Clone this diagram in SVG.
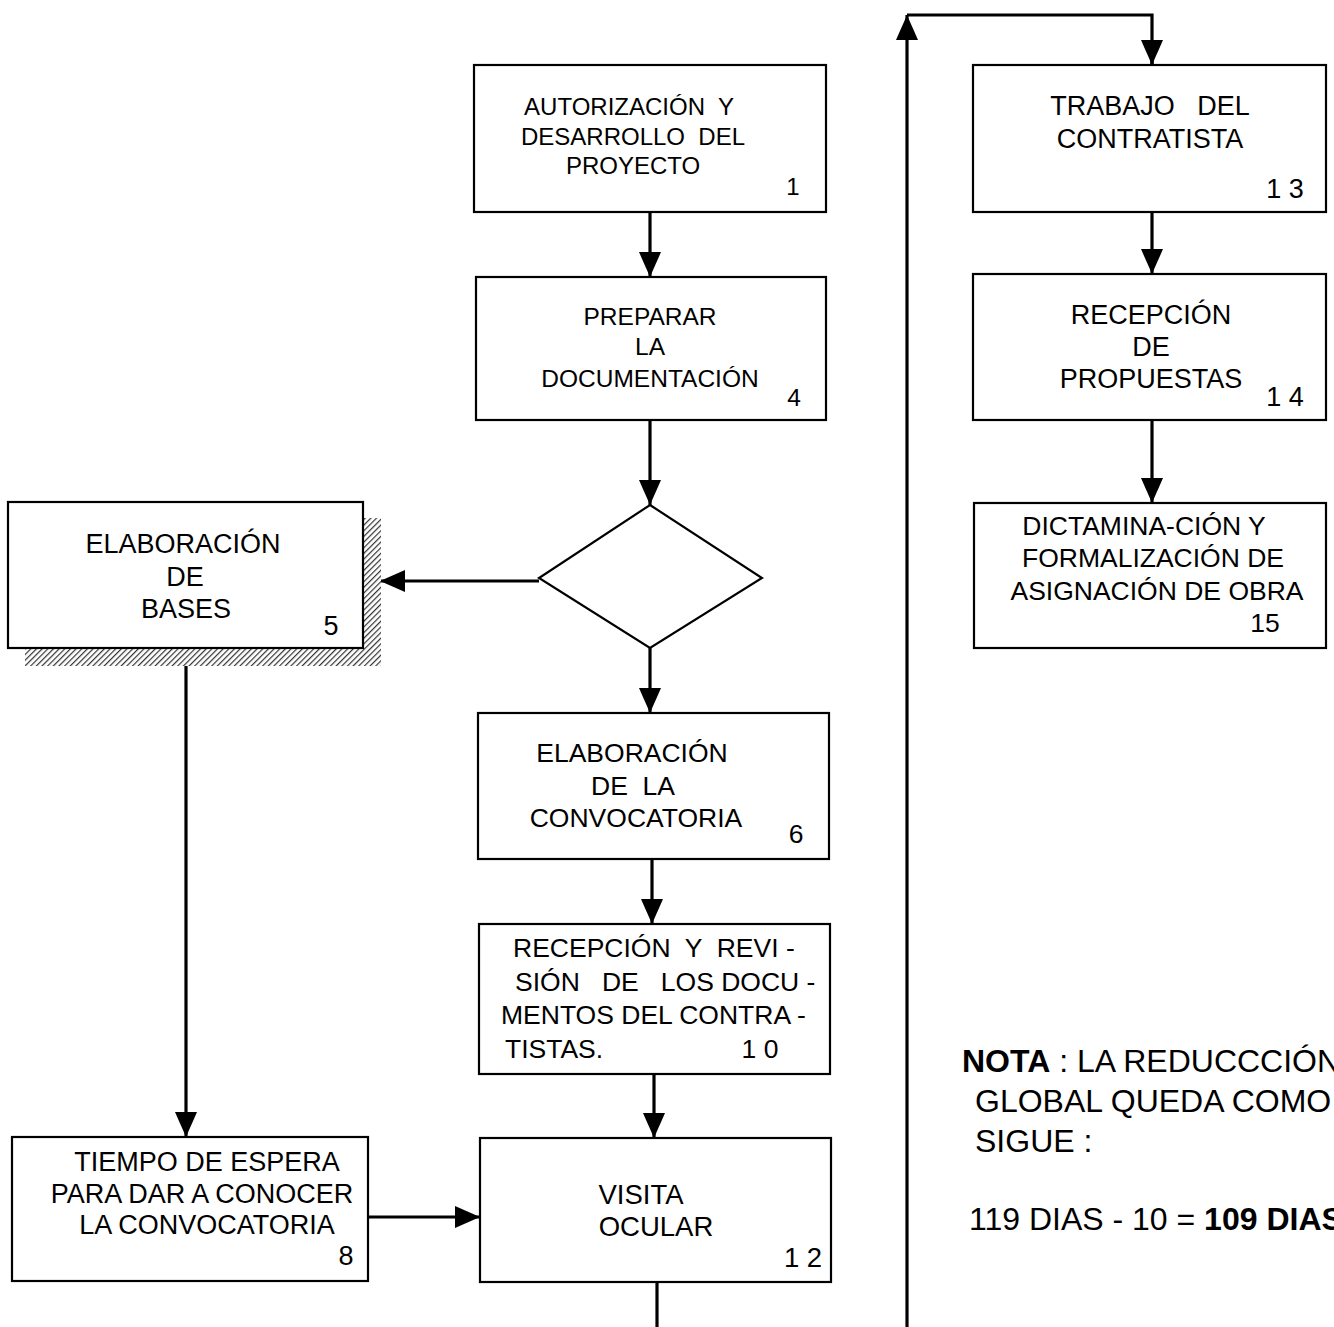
<svg xmlns="http://www.w3.org/2000/svg" width="1334" height="1327" viewBox="0 0 1334 1327" xml:space="preserve">
<defs>
<style>
.box{fill:#fff;stroke:#000;stroke-width:2.2}
text{font-family:"Liberation Sans",Arial,sans-serif;fill:#000;white-space:pre}
.t{text-anchor:middle}
.s{text-anchor:start}
.f24{font-size:24px}
.f245{font-size:24.5px}
.f265{font-size:26.5px}
.f27{font-size:27px}
.f275{font-size:27.5px}
.note{font-size:32px}
.c{fill:none;stroke:#000;stroke-width:3.2}
</style>
<marker id="ah" markerUnits="userSpaceOnUse" markerWidth="26" markerHeight="22" refX="25" refY="11" orient="auto">
<path d="M0,0 L25,11 L0,22 z" fill="#000"/>
</marker>
<pattern id="hatch" patternUnits="userSpaceOnUse" width="4" height="4" patternTransform="rotate(45)">
<rect width="4" height="4" fill="#fff"/>
<line x1="0" y1="0" x2="0" y2="4" stroke="#333" stroke-width="2.4"/>
</pattern>
</defs>
<rect width="1334" height="1327" fill="#fff"/>

<g id="connectors">
<line class="c" x1="650" y1="212" x2="650" y2="277" marker-end="url(#ah)"/>
<line class="c" x1="650" y1="420" x2="650" y2="505" marker-end="url(#ah)"/>
<line class="c" x1="539" y1="581" x2="380" y2="581" marker-end="url(#ah)"/>
<line class="c" x1="650" y1="648" x2="650" y2="713" marker-end="url(#ah)"/>
<line class="c" x1="652" y1="859" x2="652" y2="924" marker-end="url(#ah)"/>
<line class="c" x1="654" y1="1074" x2="654" y2="1138" marker-end="url(#ah)"/>
<line class="c" x1="186" y1="666" x2="186" y2="1137" marker-end="url(#ah)"/>
<line class="c" x1="368" y1="1217" x2="480" y2="1217" marker-end="url(#ah)"/>
<line class="c" x1="657" y1="1282" x2="657" y2="1327"/>
<line class="c" x1="907" y1="1327" x2="907" y2="15" marker-end="url(#ah)"/>
<polyline class="c" points="907,15 1152,15 1152,65"/>
<line class="c" x1="1152" y1="40" x2="1152" y2="65" marker-end="url(#ah)"/>
<line class="c" x1="1152" y1="212" x2="1152" y2="274" marker-end="url(#ah)"/>
<line class="c" x1="1152" y1="420" x2="1152" y2="503" marker-end="url(#ah)"/>
</g>

<g id="n1">
<rect class="box" x="474" y="65" width="352" height="147"/>
<text class="t f24" x="629" y="115">AUTORIZACIÓN  Y</text>
<text class="t f24" x="633" y="145">DESARROLLO  DEL</text>
<text class="t f24" x="633" y="174">PROYECTO</text>
<text class="t f24" x="793" y="195">1</text>
</g>

<g id="n4">
<rect class="box" x="476" y="277" width="350" height="143"/>
<text class="t f245" x="650" y="325">PREPARAR</text>
<text class="t f245" x="650" y="355">LA</text>
<text class="t f245" x="650" y="387">DOCUMENTACIÓN</text>
<text class="t f245" x="794" y="406">4</text>
</g>

<g id="decision">
<polygon class="box" points="650,505 762,578 650,648 539,578"/>
</g>

<g id="n5">
<rect x="363" y="518" width="18" height="148" fill="url(#hatch)"/>
<rect x="25" y="648" width="356" height="18" fill="url(#hatch)"/>
<rect class="box" x="8" y="502" width="355" height="146"/>
<text class="t f27" x="183" y="553">ELABORACIÓN</text>
<text class="t f27" x="185" y="586">DE</text>
<text class="t f27" x="186" y="618">BASES</text>
<text class="t f27" x="331" y="635">5</text>
</g>

<g id="n6">
<rect class="box" x="478" y="713" width="351" height="146"/>
<text class="t f265" x="632" y="762">ELABORACIÓN</text>
<text class="t f265" x="633" y="795">DE  LA</text>
<text class="t f265" x="636" y="827">CONVOCATORIA</text>
<text class="t f265" x="796" y="843">6</text>
</g>

<g id="n10">
<rect class="box" x="479" y="924" width="351" height="150"/>
<text class="s f265" x="513" y="957">RECEPCIÓN  Y  REVI -</text>
<text class="s f265" x="515" y="991">SIÓN   DE   LOS DOCU -</text>
<text class="s f265" x="501" y="1024">MENTOS DEL CONTRA -</text>
<text class="s f265" x="505" y="1058">TISTAS.</text>
<text class="t f265" x="760" y="1058">1 0</text>
</g>

<g id="n12">
<rect class="box" x="480" y="1138" width="351" height="144"/>
<text class="t f275" x="641" y="1204">VISITA</text>
<text class="t f275" x="656" y="1236">OCULAR</text>
<text class="t f275" x="803" y="1267">1 2</text>
</g>

<g id="n8">
<rect class="box" x="12" y="1137" width="356" height="144"/>
<text class="t f27" x="207" y="1171">TIEMPO DE ESPERA</text>
<text class="t f27" x="202" y="1203">PARA DAR A CONOCER</text>
<text class="t f27" x="207" y="1234">LA CONVOCATORIA</text>
<text class="t f27" x="346" y="1265">8</text>
</g>

<g id="n13">
<rect class="box" x="973" y="65" width="353" height="147"/>
<text class="t f27" x="1150" y="115">TRABAJO   DEL</text>
<text class="t f27" x="1150" y="148">CONTRATISTA</text>
<text class="t f27" x="1285" y="198">1 3</text>
</g>

<g id="n14">
<rect class="box" x="973" y="274" width="353" height="146"/>
<text class="t f27" x="1151" y="324">RECEPCIÓN</text>
<text class="t f27" x="1151" y="356">DE</text>
<text class="t f27" x="1151" y="388">PROPUESTAS</text>
<text class="t f27" x="1285" y="406">1 4</text>
</g>

<g id="n15">
<rect class="box" x="974" y="503" width="352" height="145"/>
<text class="t f265" x="1144" y="535">DICTAMINA-CIÓN Y</text>
<text class="t f265" x="1153" y="567">FORMALIZACIÓN DE</text>
<text class="t f265" x="1157" y="600">ASIGNACIÓN DE OBRA</text>
<text class="t f265" x="1265" y="632">15</text>
</g>

<g id="note">
<text class="note" x="962" y="1072"><tspan font-weight="bold">NOTA</tspan> : LA REDUCCCIÓN</text>
<text class="note" x="975" y="1112">GLOBAL QUEDA COMO</text>
<text class="note" x="975" y="1152">SIGUE :</text>
<text class="note" x="969" y="1230">119 DIAS - 10 = <tspan font-weight="bold">109 DIAS</tspan></text>
</g>
</svg>
